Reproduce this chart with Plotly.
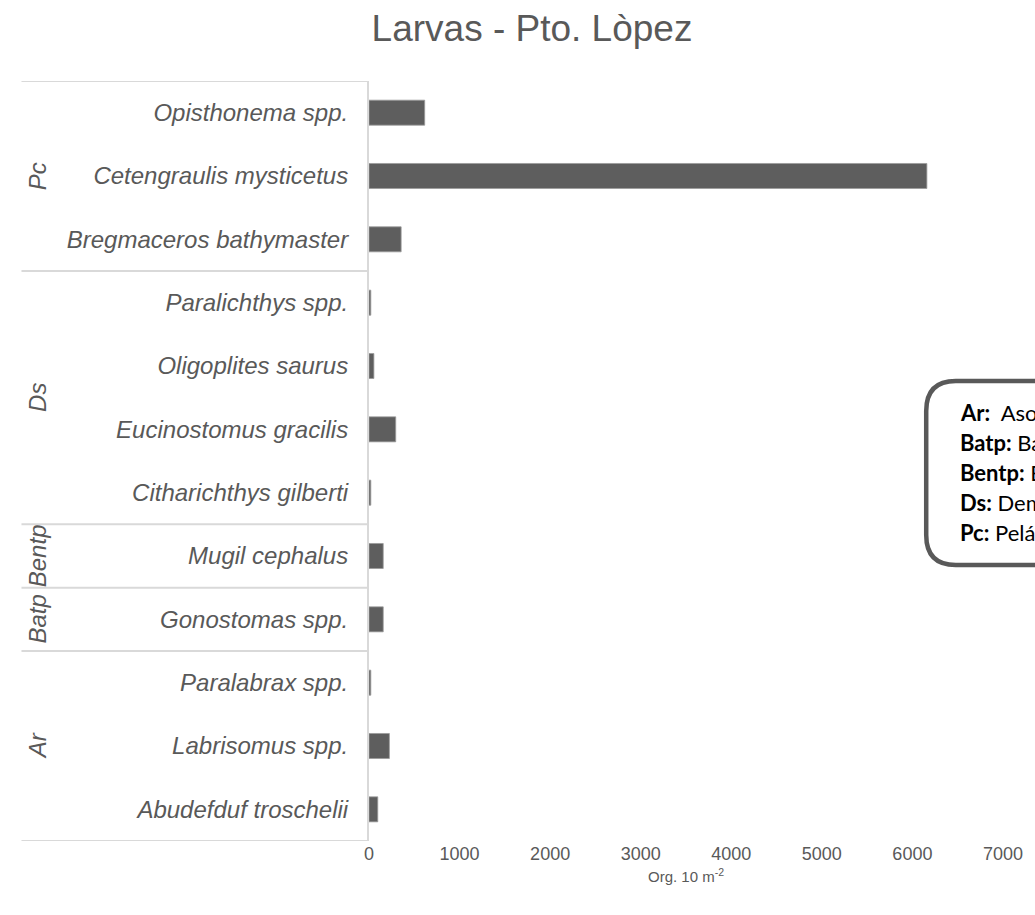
import plotly.graph_objects as go

# ---- data (bottom to top) ----
species = [
    "Abudefduf troschelii", "Labrisomus spp.", "Paralabrax spp.",
    "Gonostomas spp.",
    "Mugil cephalus",
    "Citharichthys gilberti", "Eucinostomus gracilis", "Oligoplites saurus", "Paralichthys spp.",
    "Bregmaceros bathymaster", "Cetengraulis mysticetus", "Opisthonema spp.",
]
values = [97, 225, 20, 157, 157, 20, 295, 54, 20, 355, 6160, 615]
groups = ["Ar", "Batp", "Bentp", "Ds", "Pc"]
group_sizes = [3, 1, 1, 4, 3]
legend_keys = ["Ar:", "Batp:", "Bentp:", "Ds:", "Pc:"]
legend_sep = ["&nbsp;&nbsp;", "&nbsp;", "&nbsp;", "&nbsp;", "&nbsp;"]
legend_desc = ["Asociados a arrecifes", "Batipelágico", "Bentopelágico", "Demersal", "Pelágico costero"]
x_ticks = [0, 1000, 2000, 3000, 4000, 5000, 6000, 7000]

W, H = 1035, 915
L, R, T, B = 369, 1013, 81, 841
GRAY = "#595959"
LINE = "#d9d9d9"


def px(xp):
    return (xp - L) / (R - L)


def py(yp):
    return (B - yp) / (B - T)


fig = go.Figure(go.Bar(
    x=values, y=species, orientation="h",
    marker=dict(color="#5e5e5e", line=dict(color="#9a9a9a", width=0.8)),
))

shapes = []
annotations = []

# group separators and labels
start = -0.5
boundaries = [start]
for g, n in zip(groups, group_sizes):
    end = start + n
    annotations.append(dict(
        x=px(32), y=(start + end) / 2, xref="paper", yref="y",
        text=g, textangle=-90, showarrow=False,
        font=dict(family="Liberation Sans", size=24, color=GRAY, style="italic"),
        xanchor="center", yanchor="middle",
    ))
    boundaries.append(end)
    start = end
for b in boundaries:
    shapes.append(dict(type="line", xref="paper", yref="y",
                       x0=px(16), x1=0, y0=b, y1=b,
                       line=dict(color=LINE, width=2)))

# rounded note box on the right (partly off the page)
bl, bt, bb, br, rad = 935, 381, 565, 1120, 30
pts = [
    f"M {px(bl + rad)},{py(bt)}",
    f"L {px(br)},{py(bt)}",
    f"L {px(br)},{py(bb)}",
    f"L {px(bl + rad)},{py(bb)}",
    f"Q {px(bl)},{py(bb)} {px(bl)},{py(bb - rad)}",
    f"L {px(bl)},{py(bt + rad)}",
    f"Q {px(bl)},{py(bt)} {px(bl + rad)},{py(bt)}",
    "Z",
]
shapes.append(dict(type="path", xref="paper", yref="paper", path=" ".join(pts),
                   line=dict(color=GRAY, width=4.5), fillcolor="white", layer="above"))

for i, (k, s, d) in enumerate(zip(legend_keys, legend_sep, legend_desc)):
    annotations.append(dict(
        x=px(967), y=py(412 + i * 30), xref="paper", yref="paper",
        text=f"<b>{k}</b>{s}{d}", showarrow=False, xanchor="left", yanchor="middle",
        font=dict(family="Lato", size=22, color="black"),
    ))

fig.update_layout(
    width=W, height=H,
    margin=dict(l=L, r=W - R, t=T, b=H - B, pad=0),
    paper_bgcolor="white", plot_bgcolor="white",
    showlegend=False,
    bargap=0.605,
    title=dict(text="Larvas - Pto. Lòpez", x=532 / W, xanchor="center",
               y=1 - 28 / H, yanchor="middle", yref="container",
               font=dict(family="Liberation Sans", size=37, color=GRAY)),
    xaxis=dict(range=[0, 7000.5], tickvals=x_ticks, ticktext=[str(t) for t in x_ticks],
               showgrid=False, zeroline=False, showline=False, ticks="",
               tickfont=dict(family="Liberation Sans", size=18, color=GRAY),
               title=dict(text="Org. 10 m<sup>-2</sup>", standoff=8,
                          font=dict(family="Liberation Sans", size=15, color=GRAY)),
               fixedrange=True),
    yaxis=dict(categoryorder="array", categoryarray=species, range=[-0.5, 11.5],
               showgrid=False, zeroline=False, showline=True, linecolor=LINE, linewidth=2,
               ticks="", ticklabelstandoff=14,
               tickfont=dict(family="Liberation Sans", size=24, color=GRAY, style="italic"),
               fixedrange=True),
    shapes=shapes,
    annotations=annotations,
)

fig.write_html("out.html", config={"displayModeBar": False},
               post_script="document.body.style.margin='0';document.body.style.overflow='hidden';")
